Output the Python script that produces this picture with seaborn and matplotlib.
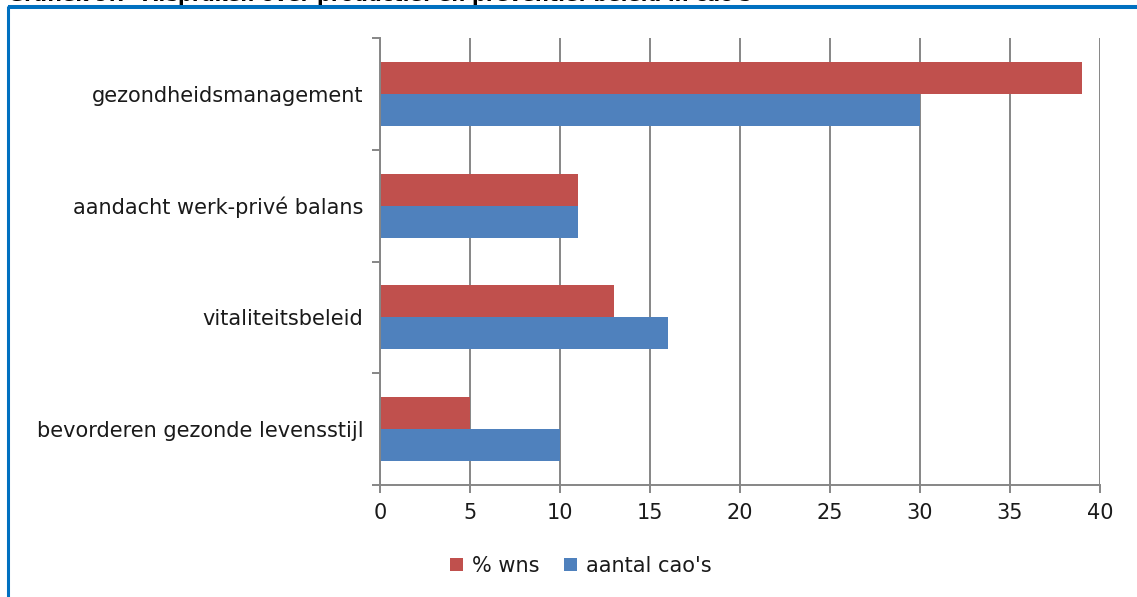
import matplotlib
matplotlib.use("Agg")
import matplotlib.pyplot as plt
import seaborn as sns
import pandas as pd
from matplotlib.lines import Line2D

categories = ["gezondheidsmanagement", "aandacht werk-privé balans",
              "vitaliteitsbeleid", "bevorderen gezonde levensstijl"]
series_names = ["% wns", "aantal cao's"]
wns = [39, 11, 13, 5]
caos = [30, 11, 16, 10]
x_ticks = [0, 5, 10, 15, 20, 25, 30, 35, 40]
title = "Grafiek 9.7  Afspraken over productief en preventief beleid in cao's"

df = pd.DataFrame({
    "categorie": categories * 2,
    "reeks": [series_names[0]] * 4 + [series_names[1]] * 4,
    "waarde": wns + caos,
})

sns.set_theme(style="white")
plt.rcParams["font.family"] = ["DejaVu Sans"]

W, H = 1137, 597
fig = plt.figure(figsize=(W / 100, H / 100), dpi=100)
ax = fig.add_axes([380 / W, 1 - 485 / H, 720 / W, 447 / H])

sns.barplot(data=df, y="categorie", x="waarde", hue="reeks", order=categories,
            hue_order=series_names, palette=["#C0504D", "#4F81BD"],
            orient="h", width=0.571, gap=0, saturation=1, linewidth=0,
            ax=ax, legend=True)

grid_c = "#868686"
fs = 15
txt_c = "#1a1a1a"
ax.set_xlim(0, 40)
ax.set_ylim(3.5, -0.5)
ax.set_xticks(x_ticks)
ax.set_xticklabels([str(t) for t in x_ticks])
ax.set_xlabel("")
ax.set_ylabel("")
ax.xaxis.grid(True, color=grid_c, linewidth=1.4)
ax.set_axisbelow(True)
for s in ["top", "right"]:
    ax.spines[s].set_visible(False)
for s in ["left", "bottom"]:
    ax.spines[s].set_color(grid_c)
    ax.spines[s].set_linewidth(1.4)

ax.set_yticks([0, 1, 2, 3])
ax.set_yticklabels(categories)
ax.set_yticks([-0.5, 0.5, 1.5, 2.5, 3.5], minor=True)
ax.tick_params(axis="y", which="major", length=0, pad=12, labelsize=fs, labelcolor=txt_c)
ax.tick_params(axis="y", which="minor", length=6, width=1.4, color=grid_c, direction="out", left=True)
ax.tick_params(axis="x", which="major", length=6, width=1.4, color=grid_c, direction="out",
               bottom=True, labelsize=fs, labelcolor=txt_c, pad=7)

leg = ax.legend(loc="upper center", bbox_to_anchor=(581 / W, 1 - 537 / H),
                bbox_transform=fig.transFigure, ncol=2, frameon=False,
                fontsize=fs, handlelength=0.6, handleheight=0.6,
                handletextpad=0.45, columnspacing=1.2)
for t in leg.get_texts():
    t.set_color(txt_c)

# blue frame (top and left)
blue = "#0070C0"
fig.add_artist(Line2D([7.5 / W, 1.0], [1 - 7 / H, 1 - 7 / H], transform=fig.transFigure,
                      color=blue, linewidth=2.9, solid_capstyle="butt"))
fig.add_artist(Line2D([7.5 / W, 7.5 / W], [0, 1 - 5.5 / H], transform=fig.transFigure,
                      color=blue, linewidth=2.2, solid_capstyle="butt"))

# title, mostly cut off at the top as in the reference
fig.text(8 / W, 1 - 1 / H, title, ha="left", va="baseline", fontsize=14,
         fontweight="bold", color="black")

fig.savefig("out.png", dpi=100)
